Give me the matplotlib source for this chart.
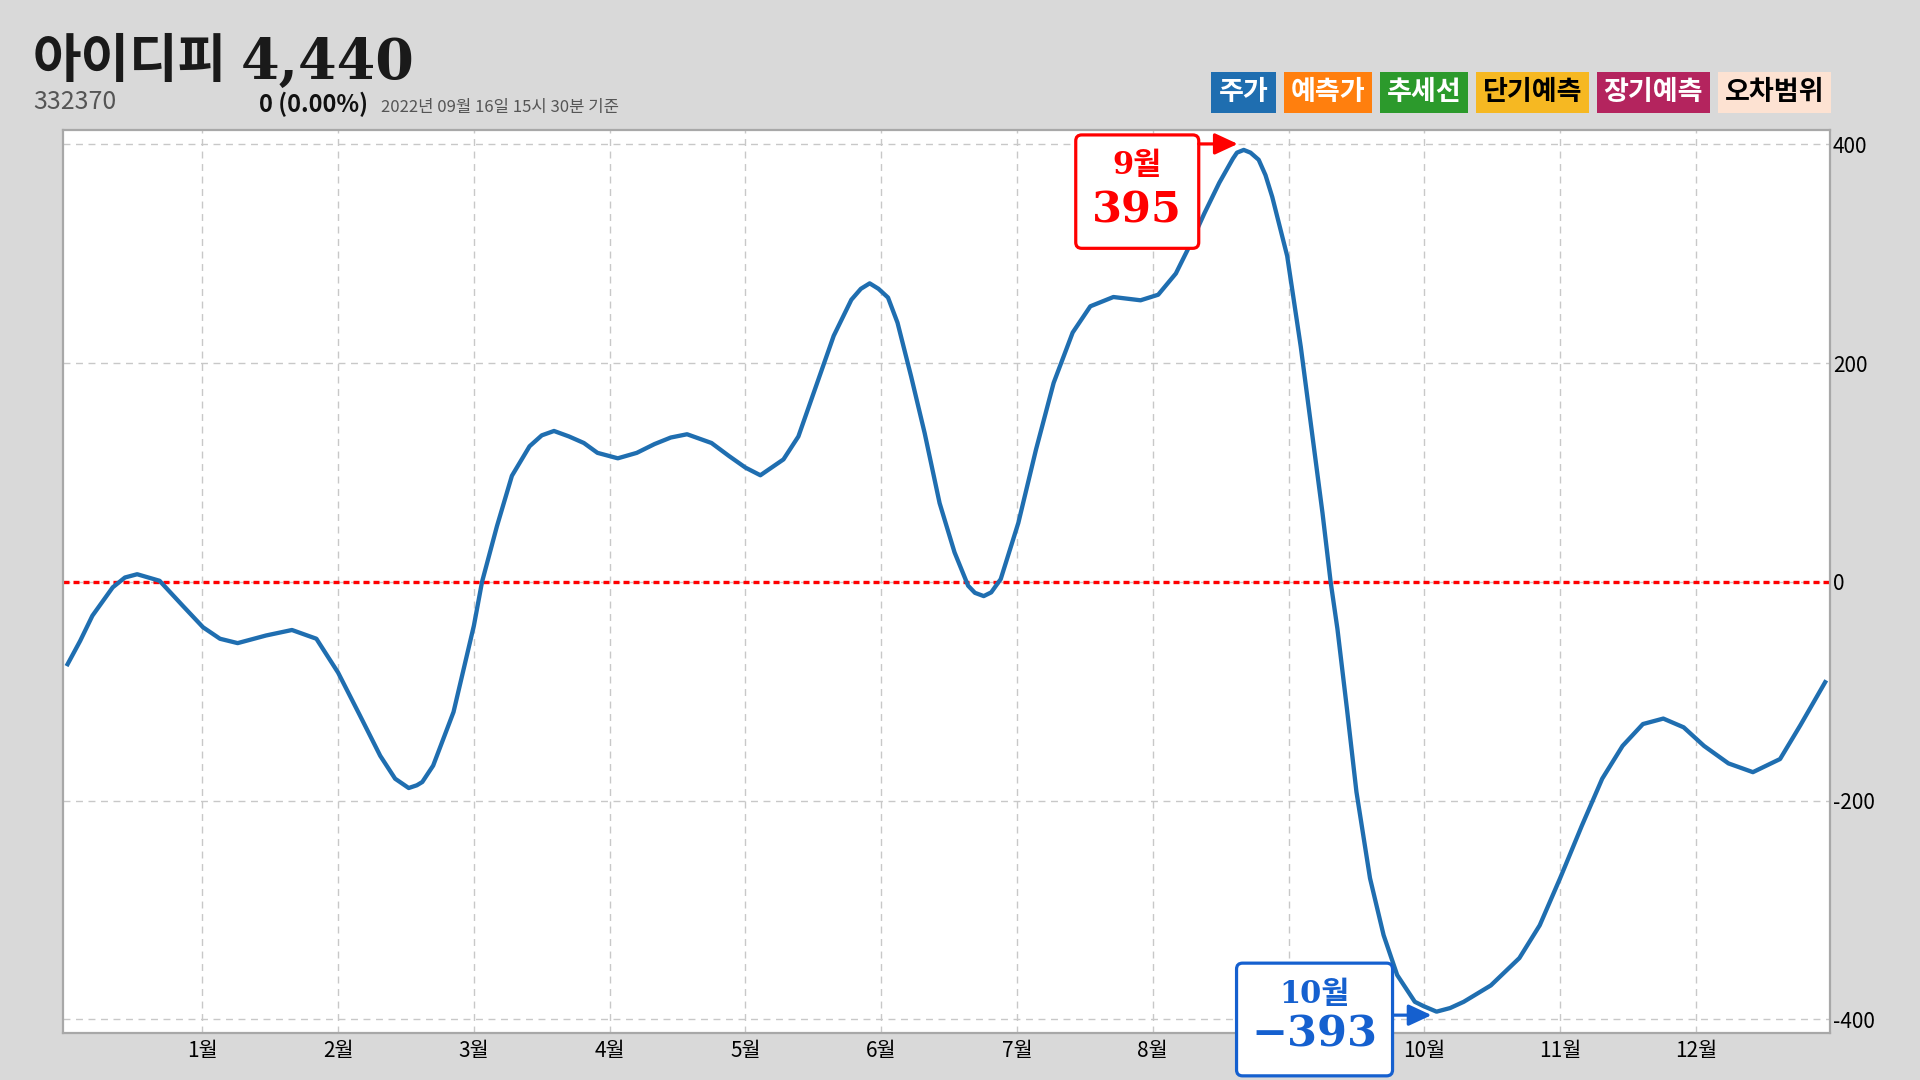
import matplotlib
matplotlib.use("Agg")
import matplotlib.pyplot as plt
from matplotlib.patches import FancyBboxPatch, FancyArrowPatch, Rectangle
from matplotlib.transforms import IdentityTransform

plt.rcParams["font.family"] = ["Noto Sans CJK KR", "DejaVu Sans"]
plt.rcParams["axes.unicode_minus"] = False

# stock header
name = "아이디피"
price = "4,440"
code = "332370"
change = "0 (0.00%)"
stamp = "2022년 09월 16일 15시 30분 기준"

# legend entries
legend_names = ["주가", "예측가", "추세선", "단기예측", "장기예측", "오차범위"]
legend_colors = ["#1f6eb0", "#ff7f0e", "#2c9a2c", "#f6b822", "#b4245e", "#fde2d2"]
legend_text = ["white", "white", "white", "black", "white", "black"]

# month ticks
months = list(range(1, 13))
month_labels = [f"{m}월" for m in months]

# curve (x in months, 1월 = 1)
xs = [0.00, 0.10, 0.19, 0.34, 0.43, 0.52, 0.685, 0.857, 1.005, 1.13,
      1.26, 1.47, 1.66, 1.84, 2.00, 2.16, 2.31, 2.42, 2.52, 2.58,
      2.62, 2.70, 2.85, 3.00, 3.06, 3.17, 3.28, 3.41, 3.50, 3.59,
      3.70, 3.81, 3.91, 4.06, 4.20, 4.33, 4.45, 4.57, 4.75, 4.88,
      5.00, 5.11, 5.28, 5.39, 5.52, 5.65, 5.78, 5.85, 5.915, 5.98,
      6.05, 6.12, 6.22, 6.32, 6.43, 6.54, 6.64, 6.69, 6.755, 6.81,
      6.88, 7.01, 7.14, 7.27, 7.41, 7.54, 7.71, 7.91, 8.04, 8.17,
      8.27, 8.38, 8.49, 8.59, 8.62, 8.67, 8.72, 8.78, 8.83, 8.88,
      8.99, 9.09, 9.17, 9.25, 9.31, 9.36, 9.43, 9.50, 9.60, 9.70,
      9.80, 9.93, 9.995, 10.09, 10.19, 10.29, 10.49, 10.70, 10.85, 11.00,
      11.16, 11.31, 11.46, 11.61, 11.76, 11.91, 12.06, 12.24, 12.42, 12.62,
      12.77, 12.96]
ys = [-77, -54, -31, -5, 4, 7, 1, -22, -41.5, -52,
      -56, -49, -44, -52, -83, -122, -159, -180, -188.5, -186,
      -183, -168, -119, -40, 0, 51, 97, 124, 134, 138,
      133, 127, 118, 113, 118, 126, 132, 135, 127, 115,
      104.5, 97.5, 112, 133, 179, 225, 258, 268, 273, 268,
      260, 237, 188, 136, 72, 27, -3.5, -10, -13, -9.6,
      2.5, 54, 121, 182, 228, 252, 260.5, 257.5, 262.6, 282,
      307, 337, 365, 387, 392.5, 395, 392.5, 386, 372, 352,
      298, 215, 139, 63, 0, -43, -116, -192, -271, -323,
      -359.5, -384, -388, -393, -389.7, -384, -369, -344, -314, -271,
      -223, -180, -150, -130, -125, -133, -150, -166, -174, -162,
      -131, -90]
yticks = [-400, -200, 0, 200, 400]


def main():
    fig = plt.figure(figsize=(19.2, 10.8), dpi=100, facecolor="#d9d9d9")
    ax = fig.add_axes([0.03297, 0.04324, 0.92031, 0.83657])
    ax.set_facecolor("white")

    ax.plot(xs, ys, color="#1f6eb0", lw=3.1, zorder=3,
            solid_joinstyle="round", solid_capstyle="butt")
    ax.axhline(0, color="red", lw=2.4, ls=(0, (1.8, 1.2)), zorder=2)

    ax.set_xlim(-0.024, 12.99)
    ax.set_ylim(-412.8, 413.4)
    ax.set_xticks(months, month_labels)
    ax.set_yticks(yticks, [str(v) for v in yticks])
    ax.yaxis.tick_right()
    ax.tick_params(axis="x", length=0, pad=5, labelsize=15)
    ax.tick_params(axis="y", length=0, pad=2, labelsize=15)
    ax.grid(True, color="#c8c8c8", lw=1, ls=(0, (5, 4)))
    for s in ax.spines.values():
        s.set_color("#a8a8a8")
        s.set_linewidth(1.6)

    # header
    ident = IdentityTransform()
    fig.text(33, 1003, name, transform=ident, fontsize=38, fontweight="black",
             color="#1a1a1a", va="baseline")
    fig.text(241, 1001, price, transform=ident, fontsize=40, fontweight="bold",
             family="DejaVu Serif", color="#1a1a1a", va="baseline")
    fig.text(33, 971, code, transform=ident, fontsize=18, fontweight="medium",
             color="#555555", va="baseline")
    fig.text(259, 968, change, transform=ident, fontsize=17, fontweight="bold",
             color="#111111", va="baseline")
    fig.text(381, 968, stamp, transform=ident, fontsize=12, color="#555555",
             va="baseline")

    # legend boxes
    widths = {2: 65, 3: 88.5, 4: 113.5}
    right = 1831
    boxes = []
    for lab in reversed(legend_names):
        w = widths[len(lab)]
        boxes.append((right - w, w))
        right -= w + 7.5
    boxes.reverse()
    for (x0, w), lab, col, tc in zip(boxes, legend_names, legend_colors, legend_text):
        fig.add_artist(Rectangle((x0, 966.7), w, 41.6, transform=ident,
                                 facecolor=col, edgecolor="none"))
        fig.text(x0 + w / 2, 987.5, lab, transform=ident, fontsize=19.5,
                 fontweight="bold", color=tc, ha="center", va="center")

    # extreme annotations
    i_max = ys.index(max(ys))
    i_min = ys.index(min(ys))
    px, py = ax.transData.transform((xs[i_max], ys[i_max]))
    mx, my = ax.transData.transform((xs[i_min], ys[i_min]))

    # the min box sits over the label of the month it points past, as in the source
    hidden = round(xs[i_max])
    ax.get_xticklabels()[months.index(hidden)].set_visible(False)

    specs = [
        (px, py, "red", (-168, -98.4, 123, 113.4), (-45, 6, -6), (-106.5, -16), (-106.5, -60.6),
         f"{round(xs[i_max])}월", f"{ys[i_max]:.0f}"),
        (mx, my, "#1560cf", (-200, -64.2, 156, 112.7), (-44, -3.5, -5), (-122, 17.5), (-122, -22.5),
         f"{round(xs[i_min])}월", f"−{abs(ys[i_min]):.0f}"),
    ]
    for (cx, cy, col, box, arr, t1, t2, lab1, lab2) in specs:
        fig.add_artist(FancyBboxPatch((cx + box[0], cy + box[1]), box[2], box[3],
                                      boxstyle="round,pad=0,rounding_size=6",
                                      transform=ident, facecolor="white",
                                      edgecolor=col, linewidth=2.3, zorder=4))
        fig.add_artist(FancyArrowPatch((cx + arr[0], cy + arr[1]), (cx + arr[2], cy + arr[1]),
                                       transform=ident, arrowstyle="-|>,head_length=14,head_width=6.5",
                                       mutation_scale=1, color=col, lw=2.3, zorder=4,
                                       shrinkA=0, shrinkB=0))
        fig.text(cx + t1[0], cy + t1[1], lab1, transform=ident, fontsize=22,
                 fontweight="bold", family=["DejaVu Serif", "Noto Sans CJK KR"],
                 color=col, ha="center", va="center", zorder=5)
        fig.text(cx + t2[0], cy + t2[1], lab2, transform=ident, fontsize=31,
                 fontweight="bold", family="DejaVu Serif", color=col,
                 ha="center", va="center", zorder=5)

    fig.savefig("out.png", dpi=100, facecolor=fig.get_facecolor())


if __name__ == "__main__":
    main()
